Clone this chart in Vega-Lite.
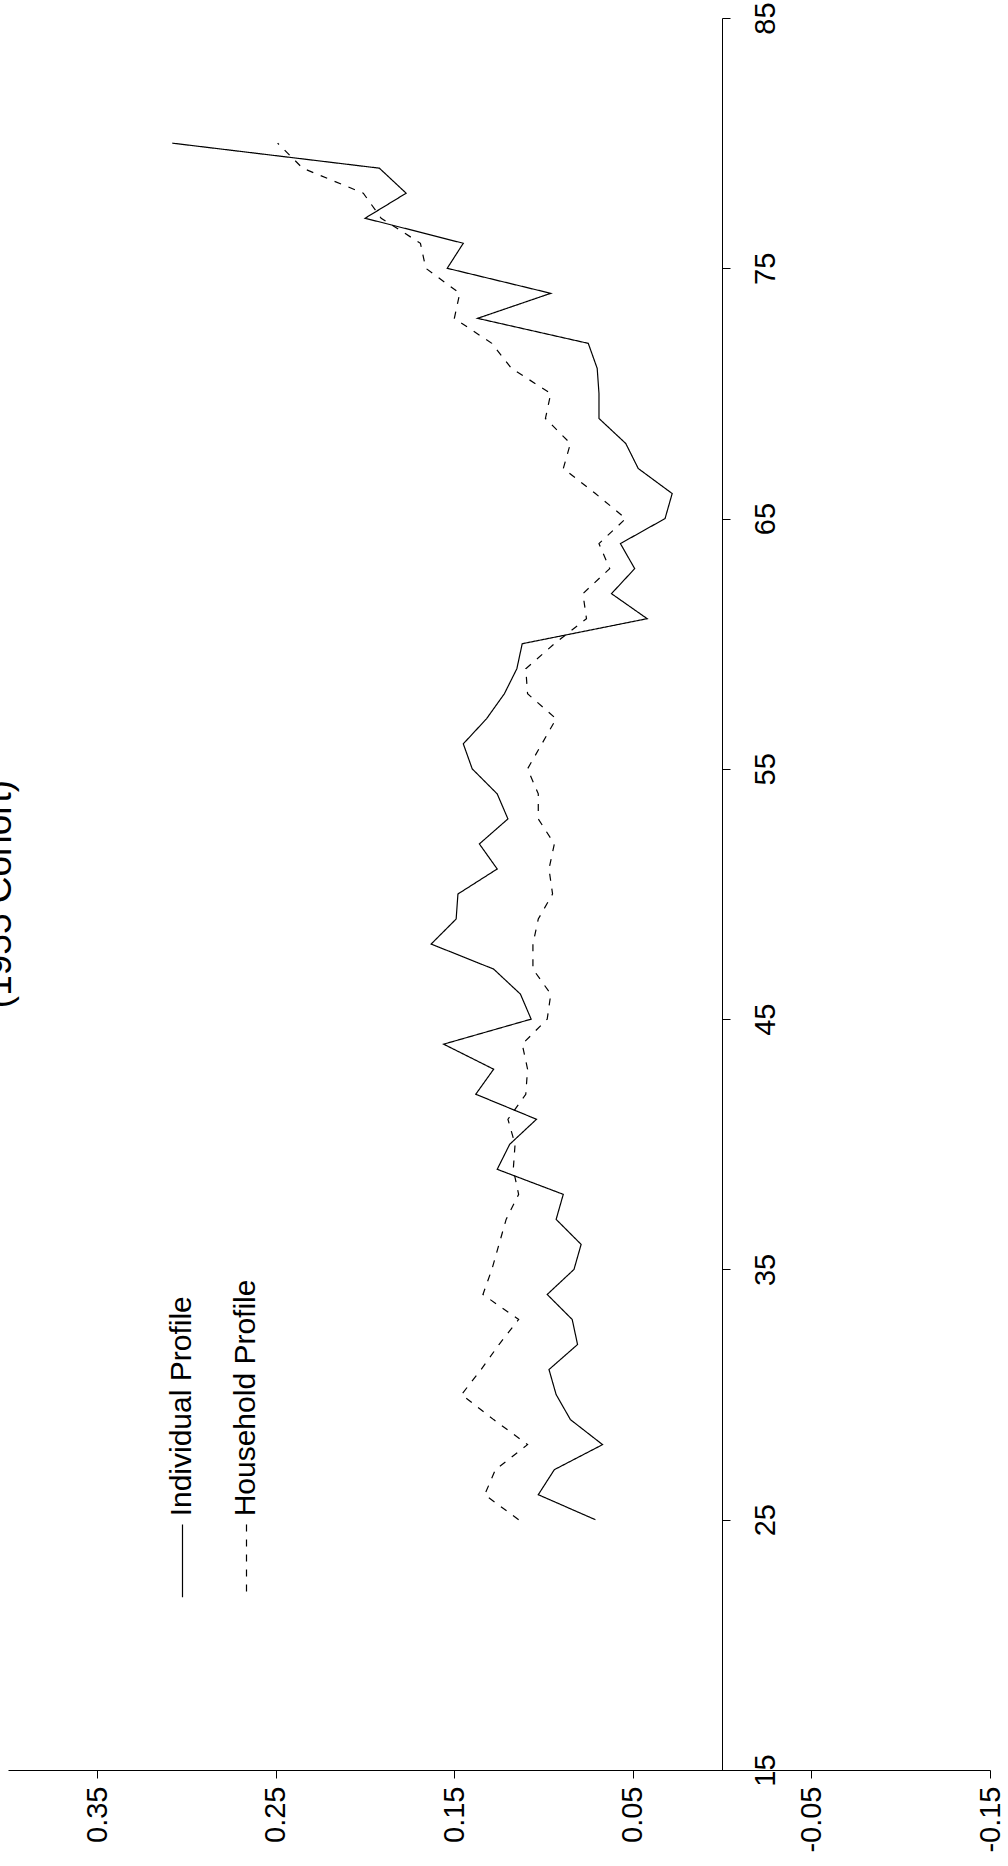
{
  "$schema": "https://vega.github.io/schema/vega-lite/v6.json",
  "width": 982,
  "height": 1752,
  "autosize": "none",
  "padding": {"left": 8, "top": 18, "right": 18, "bottom": 96},
  "background": "white",
  "config": {
    "view": {"stroke": null},
    "font": "Liberation Sans",
    "axis": {
      "grid": false,
      "domainColor": "black",
      "domainWidth": 1,
      "tickColor": "black",
      "tickWidth": 1,
      "tickSize": 8,
      "labelColor": "black",
      "labelFont": "Liberation Sans",
      "labelFontSize": 29,
      "title": null
    }
  },
  "title": {
    "text": "(1955 Cohort)",
    "orient": "left",
    "anchor": "middle",
    "offset": -11,
    "font": "Liberation Sans",
    "fontSize": 37,
    "fontWeight": "normal",
    "color": "black"
  },
  "data": {
    "values": [
      {"series": "Individual Profile", "age": 25, "value": 0.071},
      {"series": "Individual Profile", "age": 26, "value": 0.103},
      {"series": "Individual Profile", "age": 27, "value": 0.094},
      {"series": "Individual Profile", "age": 28, "value": 0.067},
      {"series": "Individual Profile", "age": 29, "value": 0.085},
      {"series": "Individual Profile", "age": 30, "value": 0.093},
      {"series": "Individual Profile", "age": 31, "value": 0.097},
      {"series": "Individual Profile", "age": 32, "value": 0.081},
      {"series": "Individual Profile", "age": 33, "value": 0.084},
      {"series": "Individual Profile", "age": 34, "value": 0.098},
      {"series": "Individual Profile", "age": 35, "value": 0.083},
      {"series": "Individual Profile", "age": 36, "value": 0.079},
      {"series": "Individual Profile", "age": 37, "value": 0.093},
      {"series": "Individual Profile", "age": 38, "value": 0.089},
      {"series": "Individual Profile", "age": 39, "value": 0.126},
      {"series": "Individual Profile", "age": 40, "value": 0.119},
      {"series": "Individual Profile", "age": 41, "value": 0.104},
      {"series": "Individual Profile", "age": 42, "value": 0.138},
      {"series": "Individual Profile", "age": 43, "value": 0.128},
      {"series": "Individual Profile", "age": 44, "value": 0.156},
      {"series": "Individual Profile", "age": 45, "value": 0.107},
      {"series": "Individual Profile", "age": 46, "value": 0.113},
      {"series": "Individual Profile", "age": 47, "value": 0.128},
      {"series": "Individual Profile", "age": 48, "value": 0.163},
      {"series": "Individual Profile", "age": 49, "value": 0.149},
      {"series": "Individual Profile", "age": 50, "value": 0.148},
      {"series": "Individual Profile", "age": 51, "value": 0.126},
      {"series": "Individual Profile", "age": 52, "value": 0.136},
      {"series": "Individual Profile", "age": 53, "value": 0.120},
      {"series": "Individual Profile", "age": 54, "value": 0.126},
      {"series": "Individual Profile", "age": 55, "value": 0.140},
      {"series": "Individual Profile", "age": 56, "value": 0.145},
      {"series": "Individual Profile", "age": 57, "value": 0.132},
      {"series": "Individual Profile", "age": 58, "value": 0.122},
      {"series": "Individual Profile", "age": 59, "value": 0.115},
      {"series": "Individual Profile", "age": 60, "value": 0.112},
      {"series": "Individual Profile", "age": 61, "value": 0.042},
      {"series": "Individual Profile", "age": 62, "value": 0.062},
      {"series": "Individual Profile", "age": 63, "value": 0.049},
      {"series": "Individual Profile", "age": 64, "value": 0.057},
      {"series": "Individual Profile", "age": 65, "value": 0.032},
      {"series": "Individual Profile", "age": 66, "value": 0.028},
      {"series": "Individual Profile", "age": 67, "value": 0.047},
      {"series": "Individual Profile", "age": 68, "value": 0.054},
      {"series": "Individual Profile", "age": 69, "value": 0.069},
      {"series": "Individual Profile", "age": 70, "value": 0.069},
      {"series": "Individual Profile", "age": 71, "value": 0.070},
      {"series": "Individual Profile", "age": 72, "value": 0.075},
      {"series": "Individual Profile", "age": 73, "value": 0.137},
      {"series": "Individual Profile", "age": 74, "value": 0.096},
      {"series": "Individual Profile", "age": 75, "value": 0.154},
      {"series": "Individual Profile", "age": 76, "value": 0.145},
      {"series": "Individual Profile", "age": 77, "value": 0.200},
      {"series": "Individual Profile", "age": 78, "value": 0.177},
      {"series": "Individual Profile", "age": 79, "value": 0.192},
      {"series": "Individual Profile", "age": 80, "value": 0.308},
      {"series": "Household Profile", "age": 25, "value": 0.114},
      {"series": "Household Profile", "age": 26, "value": 0.133},
      {"series": "Household Profile", "age": 27, "value": 0.127},
      {"series": "Household Profile", "age": 28, "value": 0.109},
      {"series": "Household Profile", "age": 29, "value": 0.128},
      {"series": "Household Profile", "age": 30, "value": 0.146},
      {"series": "Household Profile", "age": 31, "value": 0.135},
      {"series": "Household Profile", "age": 32, "value": 0.125},
      {"series": "Household Profile", "age": 33, "value": 0.114},
      {"series": "Household Profile", "age": 34, "value": 0.134},
      {"series": "Household Profile", "age": 35, "value": 0.129},
      {"series": "Household Profile", "age": 36, "value": 0.125},
      {"series": "Household Profile", "age": 37, "value": 0.121},
      {"series": "Household Profile", "age": 38, "value": 0.114},
      {"series": "Household Profile", "age": 39, "value": 0.117},
      {"series": "Household Profile", "age": 40, "value": 0.116},
      {"series": "Household Profile", "age": 41, "value": 0.120},
      {"series": "Household Profile", "age": 42, "value": 0.110},
      {"series": "Household Profile", "age": 43, "value": 0.109},
      {"series": "Household Profile", "age": 44, "value": 0.112},
      {"series": "Household Profile", "age": 45, "value": 0.098},
      {"series": "Household Profile", "age": 46, "value": 0.096},
      {"series": "Household Profile", "age": 47, "value": 0.106},
      {"series": "Household Profile", "age": 48, "value": 0.106},
      {"series": "Household Profile", "age": 49, "value": 0.103},
      {"series": "Household Profile", "age": 50, "value": 0.095},
      {"series": "Household Profile", "age": 51, "value": 0.097},
      {"series": "Household Profile", "age": 52, "value": 0.094},
      {"series": "Household Profile", "age": 53, "value": 0.103},
      {"series": "Household Profile", "age": 54, "value": 0.103},
      {"series": "Household Profile", "age": 55, "value": 0.109},
      {"series": "Household Profile", "age": 56, "value": 0.101},
      {"series": "Household Profile", "age": 57, "value": 0.093},
      {"series": "Household Profile", "age": 58, "value": 0.109},
      {"series": "Household Profile", "age": 59, "value": 0.110},
      {"series": "Household Profile", "age": 60, "value": 0.094},
      {"series": "Household Profile", "age": 61, "value": 0.076},
      {"series": "Household Profile", "age": 62, "value": 0.078},
      {"series": "Household Profile", "age": 63, "value": 0.063},
      {"series": "Household Profile", "age": 64, "value": 0.069},
      {"series": "Household Profile", "age": 65, "value": 0.054},
      {"series": "Household Profile", "age": 66, "value": 0.071},
      {"series": "Household Profile", "age": 67, "value": 0.089},
      {"series": "Household Profile", "age": 68, "value": 0.085},
      {"series": "Household Profile", "age": 69, "value": 0.099},
      {"series": "Household Profile", "age": 70, "value": 0.096},
      {"series": "Household Profile", "age": 71, "value": 0.118},
      {"series": "Household Profile", "age": 72, "value": 0.129},
      {"series": "Household Profile", "age": 73, "value": 0.150},
      {"series": "Household Profile", "age": 74, "value": 0.147},
      {"series": "Household Profile", "age": 75, "value": 0.166},
      {"series": "Household Profile", "age": 76, "value": 0.169},
      {"series": "Household Profile", "age": 77, "value": 0.191},
      {"series": "Household Profile", "age": 78, "value": 0.201},
      {"series": "Household Profile", "age": 79, "value": 0.235},
      {"series": "Household Profile", "age": 80, "value": 0.249}
    ]
  },
  "mark": {"type": "line", "color": "black", "strokeWidth": 1.2},
  "encoding": {
    "x": {
      "field": "value",
      "type": "quantitative",
      "scale": {"domain": [-0.15, 0.4], "reverse": true, "nice": false, "zero": false},
      "axis": {
        "values": [0.35, 0.25, 0.15, 0.05, -0.05, -0.15],
        "format": ".2f",
        "labelExpr": "replace(datum.label, '\u2212', '-')",
        "labelAngle": -90,
        "labelAlign": "right",
        "labelBaseline": "middle",
        "labelPadding": 8
      }
    },
    "y": {
      "field": "age",
      "type": "quantitative",
      "scale": {"domain": [15, 85], "nice": false, "zero": false},
      "axis": {
        "orient": "right",
        "offset": -268,
        "values": [15, 25, 35, 45, 55, 65, 75, 85],
        "labelAngle": -90,
        "labelAlign": "center",
        "labelBaseline": "top",
        "labelPadding": 21
      }
    },
    "order": {"field": "age", "type": "quantitative"},
    "strokeDash": {
      "field": "series",
      "type": "nominal",
      "scale": {
        "domain": ["Individual Profile", "Household Profile"],
        "range": [[1, 0], [7, 8]]
      },
      "legend": {
        "orient": "none",
        "legendX": 137,
        "legendY": 1505,
        "direction": "horizontal",
        "columns": 2,
        "title": null,
        "symbolType": "M0,-1L0,1",
        "symbolSize": 5300,
        "symbolStrokeWidth": 1.2,
        "symbolStrokeColor": "black",
        "labelFont": "Liberation Sans",
        "labelFontSize": 30,
        "labelColor": "black",
        "labelLimit": 0,
        "columnPadding": 11,
        "padding": 0,
        "encode": {
          "labels": {
            "update": {
              "angle": {"value": -90},
              "align": {"value": "left"},
              "baseline": {"value": "middle"},
              "x": {"value": 37},
              "y": {"value": -7}
            }
          }
        }
      }
    }
  }
}
